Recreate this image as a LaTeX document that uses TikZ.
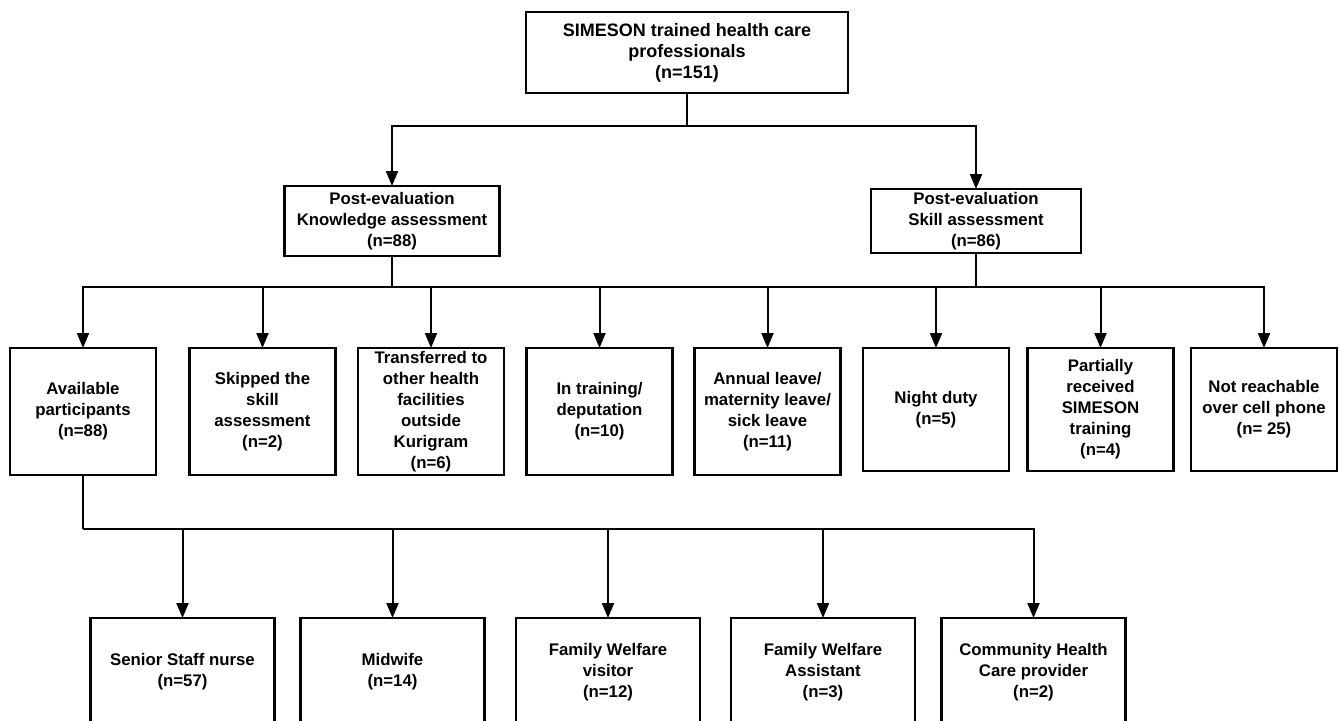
\documentclass[tikz,border=0pt]{standalone}
\usepackage{fontspec}
\setmainfont{Liberation Sans}
\usetikzlibrary{arrows.meta}
\tikzset{
  boxnode/.style={draw, line width=2.4pt, align=center, inner sep=0pt, outer sep=0pt,
    font=\fontsize{16.8}{21}\selectfont\bfseries},
  rowbox/.style={boxnode, minimum width=146, minimum height=127},
  rowboxb/.style={boxnode, minimum width=146, minimum height=123},
  botbox/.style={boxnode, minimum width=184, minimum height=108},
  conn/.style={line width=2pt},
  arr/.style={conn, -{Triangle[width=12pt,length=15pt]}}
}
\begin{document}
\begin{tikzpicture}[x=1pt,y=-1pt]
\clip (0,0) rectangle (1340,720);
\fill[white] (0,0) rectangle (1340,720);
% top
\node[boxnode, minimum width=322, minimum height=81, font=\fontsize{18}{21}\selectfont\bfseries] (top) at (687,52.5)
  {SIMESON trained health care\\professionals\\(n=151)};
\node[boxnode, minimum width=215, minimum height=70] (know) at (392,221)
  {Post-evaluation\\Knowledge assessment\\(n=88)};
\node[boxnode, minimum width=210, minimum height=64] (skill) at (976,221)
  {Post-evaluation\\Skill assessment\\(n=86)};
% row
\node[rowbox] (r1) at (83,411.5) {Available\\participants\\(n=88)};
\node[rowbox] (r2) at (262.5,411.5) {Skipped the\\skill\\assessment\\(n=2)};
\node[rowbox] (r3) at (431,411.5) {Transferred to\\other health\\facilities\\outside\\Kurigram\\(n=6)};
\node[rowbox] (r4) at (599.5,411.5) {In training/\\deputation\\(n=10)};
\node[rowbox] (r5) at (767.5,411.5) {Annual leave/\\maternity leave/\\sick leave\\(n=11)};
\node[rowboxb] (r6) at (936,409.5) {Night duty\\(n=5)};
\node[rowboxb] (r7) at (1100.5,409.5) {Partially\\received\\SIMESON\\training\\(n=4)};
\node[rowboxb] (r8) at (1264,409.5) {Not reachable\\over cell phone\\(n= 25)};
% bottom
\node[botbox] (b1) at (182.5,672) {Senior Staff nurse\\(n=57)};
\node[botbox] (b2) at (392.5,672) {Midwife\\(n=14)};
\node[botbox] (b3) at (608,672) {Family Welfare\\visitor\\(n=12)};
\node[botbox] (b4) at (823,672) {Family Welfare\\Assistant\\(n=3)};
\node[botbox] (b5) at (1033.5,672) {Community Health\\Care provider\\(n=2)};
% junctions
\coordinate (j1) at (687,126);
\coordinate (j2) at (392,287);
\coordinate (j3) at (976,287);
\coordinate (j4) at (83,529);
% connectors
\draw[conn] (top) -- (j1);
\draw[arr] (j1) -| (know);
\draw[arr] (j1) -| (skill);
\draw[conn] (know) -- (j2);
\draw[conn] (skill) -- (j3);
\draw[conn] (j2) -- (j3);
\foreach \n in {r1,r2,r3,r4} \draw[arr] (j2) -| (\n);
\foreach \n in {r5,r6,r7,r8} \draw[arr] (j3) -| (\n);
\draw[conn] (r1) -- (j4);
\foreach \n in {b1,b2,b3,b4,b5} \draw[arr] (j4) -| (\n);
\end{tikzpicture}
\end{document}
